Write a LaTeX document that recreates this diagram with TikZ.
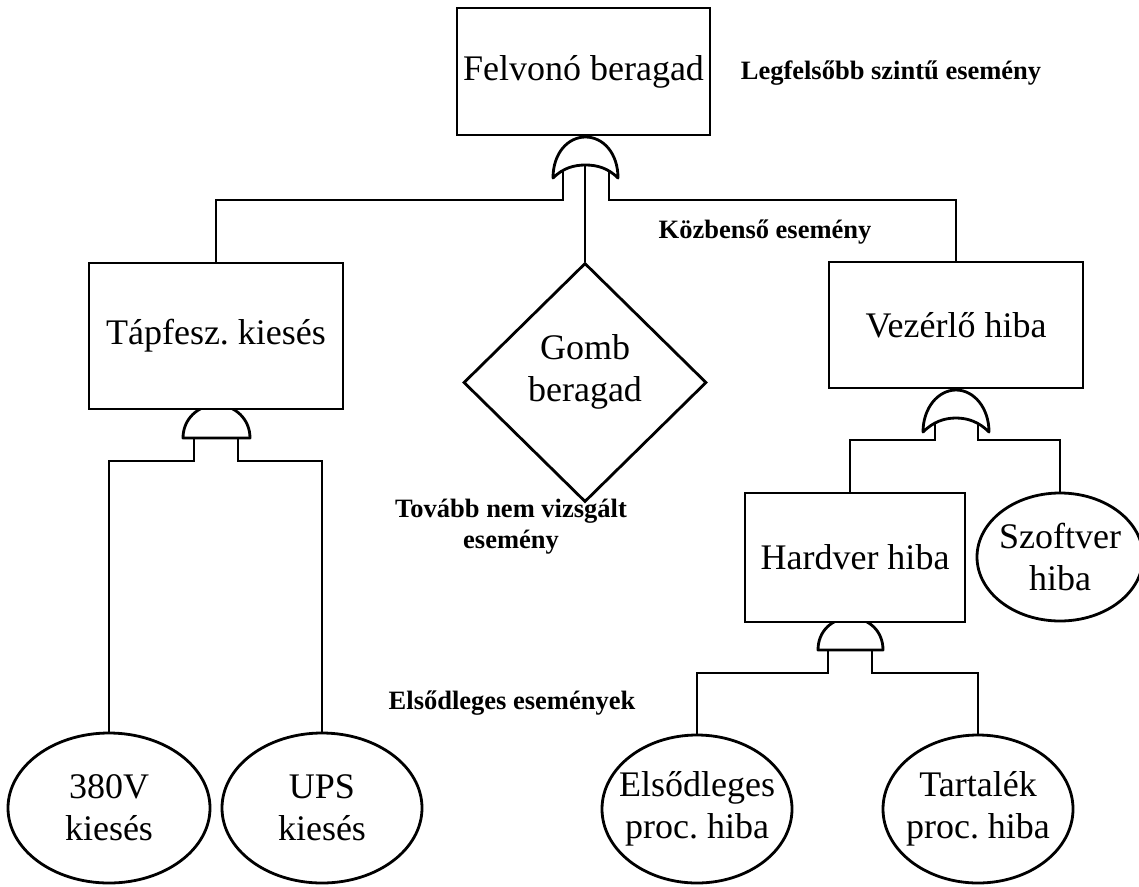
\documentclass[tikz,border=0pt]{standalone}
\usepackage{fontspec}
\setmainfont{Liberation Serif}
\usetikzlibrary{shapes.geometric}
\frenchspacing
\begin{document}
\begin{tikzpicture}[x=1pt,y=-1pt,
  line width=2.8pt,
  box/.style={draw, fill=white, rectangle, inner sep=0pt, font=\fontsize{36}{42}\selectfont, align=center},
  evt/.style={draw, fill=white, ellipse, inner sep=0pt},
  dia/.style={draw, fill=white, diamond, inner sep=0pt},
  evtxt/.style={font=\fontsize{36}{42}\selectfont, align=center, inner sep=0pt},
  note/.style={font=\bfseries\fontsize{26.5}{31}\selectfont, align=center, inner sep=0pt},
  gate/.style={draw, fill=white, line join=round}]
\useasboundingbox (0,0) rectangle (1139,886);

% gates
\draw[gate] (553,178) .. controls (553,153) and (568,137) .. (585.5,137)
  .. controls (603,137) and (618,153) .. (618,178)
  .. controls (608,168) and (597,165) .. (585.5,165)
  .. controls (574,165) and (563,168) .. (553,178) -- cycle;
\draw[gate] (923,432) .. controls (923,408) and (938,390) .. (956,390)
  .. controls (974,390) and (989,408) .. (989,432)
  .. controls (979,422) and (968,418) .. (956,418)
  .. controls (944,418) and (933,422) .. (923,432) -- cycle;
\draw[gate] (183,438) .. controls (183,419) and (198,405) .. (216.5,405)
  .. controls (235,405) and (250,419) .. (250,438) -- cycle;
\draw[gate] (818,650) .. controls (818,631) and (832,618) .. (850.5,618)
  .. controls (869,618) and (883,631) .. (883,650) -- cycle;

\coordinate (g1l) at (563,170);
\coordinate (g1m) at (585,165);
\coordinate (g1r) at (609,170);
\coordinate (g2l) at (194,438);
\coordinate (g2r) at (238,438);
\coordinate (g3l) at (935,424);
\coordinate (g3r) at (978,424);
\coordinate (g4l) at (828,650);
\coordinate (g4r) at (872,650);

% events
\node[box, minimum width=253pt, minimum height=127pt] (top) at (583.5,71.5) {Felvonó beragad};
\node[box, minimum width=254pt, minimum height=146pt] (tap) at (216,336) {Tápfesz. kiesés};
\node[box, minimum width=254pt, minimum height=126pt] (vez) at (956,325) {Vezérlő hiba};
\node[box, minimum width=220pt, minimum height=129pt] (hw) at (855,557.5) {Hardver hiba};
\node[dia, minimum width=243pt, minimum height=239pt] (gomb) at (585,382.5) {};
\node[evtxt] (tgomb) at (585,372) {Gomb\\beragad};

\node[evt, minimum width=202pt, minimum height=150pt] (e380) at (109,808) {};
\node[evt, minimum width=200pt, minimum height=150pt] (ups) at (322,808) {};
\node[evt, minimum width=190pt, minimum height=148pt] (ep) at (697,809) {};
\node[evt, minimum width=190pt, minimum height=148pt] (tart) at (978,809) {};
\node[evt, minimum width=166pt, minimum height=128pt] (szoft) at (1060,557) {};
\node[evtxt] (t380) at (e380) {380V\\kiesés};
\node[evtxt] (tups) at (ups) {UPS\\kiesés};
\node[evtxt] (tep) at (ep) {Elsődleges\\proc. hiba};
\node[evtxt] (ttart) at (tart) {Tartalék\\proc. hiba};
\node[evtxt] (tszoft) at (szoft) {Szoftver\\hiba};

% connectors
\draw (g1l) -- ++(0,30) -| (tap.north);
\draw (g1m) -- (gomb.north);
\draw (g1r) -- ++(0,30) -| (vez.north);
\draw (g2l) -- ++(0,23) -| (e380.north);
\draw (g2r) -- ++(0,23) -| (ups.north);
\draw (g3l) -- ++(0,16) -| (hw.north -| 850,0);
\draw (g3r) -- ++(0,16) -| (szoft.north);
\draw (g4l) -- ++(0,23) -| (ep.north);
\draw (g4r) -- ++(0,23) -| (tart.north);

% notes
\node[note] (lleg) at (891,73) {Legfelsőbb szintű esemény};
\node[note] (lkoz) at (765,232) {Közbenső esemény};
\node[note] (ltov) at (511,527) {Tovább nem vizsgált\\esemény};
\node[note] (lels) at (512,703) {Elsődleges események};
\end{tikzpicture}
\end{document}
